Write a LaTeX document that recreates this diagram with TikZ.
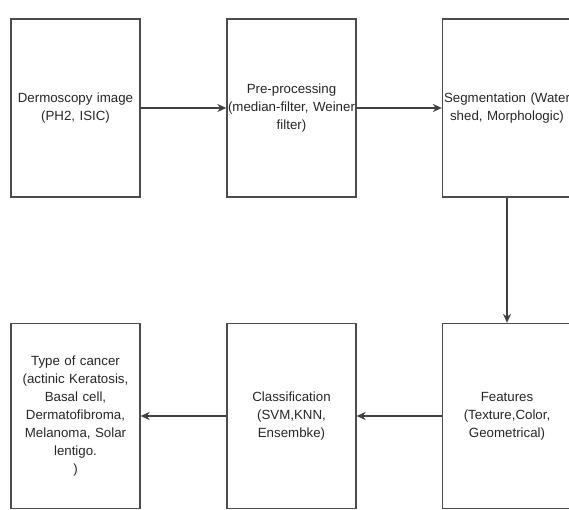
\documentclass[tikz,border=0pt]{standalone}
\usepackage{fontspec}
\setmainfont{Liberation Sans}
\usetikzlibrary{arrows.meta}

\begin{document}
\begin{tikzpicture}[x=1pt,y=-1pt]
	\tikzstyle{etapa}=[rectangle,draw=black!70,line width=1.3pt,minimum width=129pt,minimum height=178pt,inner sep=1pt,text width=127pt,align=center,text=black!85,font=\fontsize{13.3}{18}\selectfont]
	\tikzstyle{etapa baja}=[etapa,minimum height=185pt]
	\tikzstyle{flecha}=[-{Stealth[length=9pt,width=8pt]},draw=black!75,line width=1.4pt]
	\useasboundingbox (0,0) rectangle (569,510);
	
	% Fila superior
	\node[etapa] (dermo) at (75.5,108) {Dermoscopy image\\(PH2, ISIC)};
	\node[etapa] (pre) at (291.5,108) {Pre-processing\\(median-filter, Weiner\\filter)};
	\node[etapa] (seg) at (507,108) {Segmentation (Water\\shed, Morphologic)};
	
	% Fila inferior
	\node[etapa baja] (tipo) at (75.5,416) {Type of cancer\\(actinic Keratosis,\\Basal cell,\\Dermatofibroma,\\Melanoma, Solar\\lentigo.\\)};
	\node[etapa baja] (clas) at (291.5,416) {Classification\\(SVM,KNN,\\Ensembke)};
	\node[etapa baja] (feat) at (507,416) {Features\\(Texture,Color,\\Geometrical)};
	
	% Conexiones
	\draw[flecha] (dermo) -- (pre);
	\draw[flecha] (pre) -- (seg);
	\draw[flecha] (seg) -- (feat);
	\draw[flecha] (feat) -- (clas);
	\draw[flecha] (clas) -- (tipo);
\end{tikzpicture}
\end{document}
